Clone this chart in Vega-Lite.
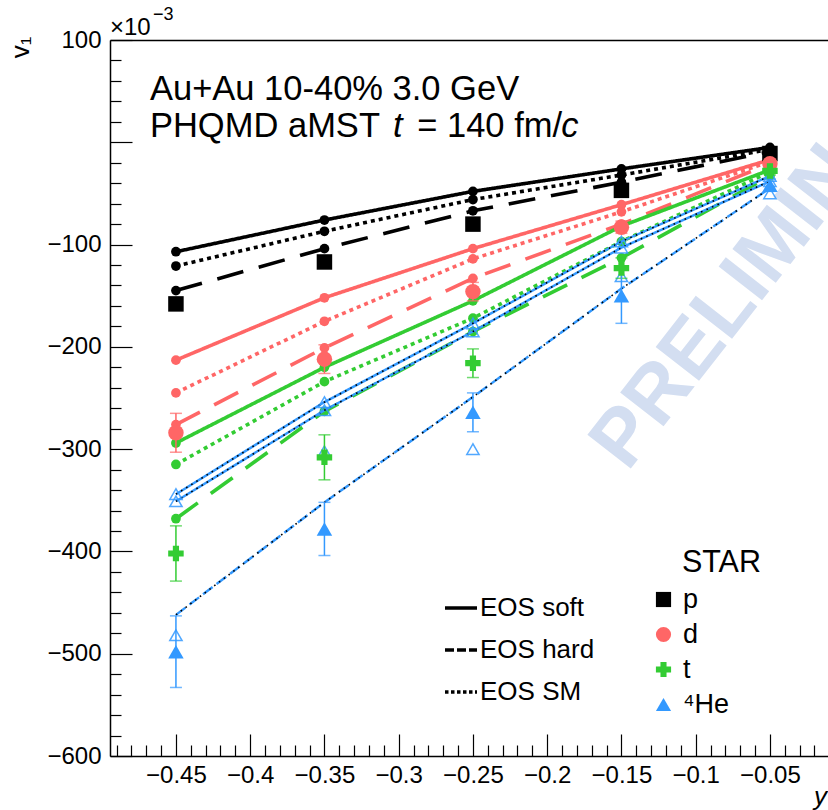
{
  "$schema": "https://vega.github.io/schema/vega-lite/v6.json",
  "autosize": {"type": "none"},
  "width": 718,
  "height": 716,
  "padding": {"left": 110, "top": 40, "right": 0, "bottom": 54},
  "background": "white",
  "config": {"font": "Liberation Sans", "view": {"stroke": null}},
  "datasets": {
    "model": [
      {"y": -0.45, "v1": -107, "species": "p", "eos": "soft"},
      {"y": -0.35, "v1": -76, "species": "p", "eos": "soft"},
      {"y": -0.25, "v1": -48, "species": "p", "eos": "soft"},
      {"y": -0.15, "v1": -26, "species": "p", "eos": "soft"},
      {"y": -0.05, "v1": -5, "species": "p", "eos": "soft"},
      {"y": -0.45, "v1": -121, "species": "p", "eos": "SM"},
      {"y": -0.35, "v1": -87, "species": "p", "eos": "SM"},
      {"y": -0.25, "v1": -56, "species": "p", "eos": "SM"},
      {"y": -0.15, "v1": -32, "species": "p", "eos": "SM"},
      {"y": -0.05, "v1": -7, "species": "p", "eos": "SM"},
      {"y": -0.45, "v1": -145, "species": "p", "eos": "hard"},
      {"y": -0.35, "v1": -104, "species": "p", "eos": "hard"},
      {"y": -0.25, "v1": -67, "species": "p", "eos": "hard"},
      {"y": -0.15, "v1": -39, "species": "p", "eos": "hard"},
      {"y": -0.05, "v1": -9, "species": "p", "eos": "hard"},
      {"y": -0.45, "v1": -213, "species": "d", "eos": "soft"},
      {"y": -0.35, "v1": -152, "species": "d", "eos": "soft"},
      {"y": -0.25, "v1": -104, "species": "d", "eos": "soft"},
      {"y": -0.15, "v1": -61, "species": "d", "eos": "soft"},
      {"y": -0.05, "v1": -17, "species": "d", "eos": "soft"},
      {"y": -0.45, "v1": -245, "species": "d", "eos": "SM"},
      {"y": -0.35, "v1": -175, "species": "d", "eos": "SM"},
      {"y": -0.25, "v1": -114, "species": "d", "eos": "SM"},
      {"y": -0.15, "v1": -68, "species": "d", "eos": "SM"},
      {"y": -0.05, "v1": -19, "species": "d", "eos": "SM"},
      {"y": -0.45, "v1": -276, "species": "d", "eos": "hard"},
      {"y": -0.35, "v1": -201, "species": "d", "eos": "hard"},
      {"y": -0.25, "v1": -133, "species": "d", "eos": "hard"},
      {"y": -0.15, "v1": -80, "species": "d", "eos": "hard"},
      {"y": -0.05, "v1": -21, "species": "d", "eos": "hard"},
      {"y": -0.45, "v1": -294, "species": "t", "eos": "soft"},
      {"y": -0.35, "v1": -220, "species": "t", "eos": "soft"},
      {"y": -0.25, "v1": -155, "species": "t", "eos": "soft"},
      {"y": -0.15, "v1": -82, "species": "t", "eos": "soft"},
      {"y": -0.05, "v1": -27, "species": "t", "eos": "soft"},
      {"y": -0.45, "v1": -315, "species": "t", "eos": "SM"},
      {"y": -0.35, "v1": -234, "species": "t", "eos": "SM"},
      {"y": -0.25, "v1": -172, "species": "t", "eos": "SM"},
      {"y": -0.15, "v1": -97, "species": "t", "eos": "SM"},
      {"y": -0.05, "v1": -29, "species": "t", "eos": "SM"},
      {"y": -0.45, "v1": -368, "species": "t", "eos": "hard"},
      {"y": -0.35, "v1": -263, "species": "t", "eos": "hard"},
      {"y": -0.25, "v1": -185, "species": "t", "eos": "hard"},
      {"y": -0.15, "v1": -113, "species": "t", "eos": "hard"},
      {"y": -0.05, "v1": -33, "species": "t", "eos": "hard"},
      {"y": -0.45, "v1": -344, "species": "4He", "eos": "soft"},
      {"y": -0.35, "v1": -254, "species": "4He", "eos": "soft"},
      {"y": -0.25, "v1": -177, "species": "4He", "eos": "soft"},
      {"y": -0.15, "v1": -97, "species": "4He", "eos": "soft"},
      {"y": -0.05, "v1": -33, "species": "4He", "eos": "soft"},
      {"y": -0.45, "v1": -351, "species": "4He", "eos": "SM"},
      {"y": -0.35, "v1": -262, "species": "4He", "eos": "SM"},
      {"y": -0.25, "v1": -185, "species": "4He", "eos": "SM"},
      {"y": -0.15, "v1": -103, "species": "4He", "eos": "SM"},
      {"y": -0.05, "v1": -38, "species": "4He", "eos": "SM"},
      {"y": -0.45, "v1": -462, "species": "4He", "eos": "hard"},
      {"y": -0.35, "v1": -352, "species": "4He", "eos": "hard"},
      {"y": -0.25, "v1": -249, "species": "4He", "eos": "hard"},
      {"y": -0.15, "v1": -143, "species": "4He", "eos": "hard"},
      {"y": -0.05, "v1": -45, "species": "4He", "eos": "hard"}
    ],
    "star": [
      {"y": -0.45, "v1": -158, "err": 3, "species": "p"},
      {"y": -0.35, "v1": -117, "err": 3, "species": "p"},
      {"y": -0.25, "v1": -80, "err": 3, "species": "p"},
      {"y": -0.15, "v1": -47, "err": 3, "species": "p"},
      {"y": -0.05, "v1": -11, "err": 2, "species": "p"},
      {"y": -0.45, "v1": -284, "err": 19, "species": "d"},
      {"y": -0.35, "v1": -212, "err": 14, "species": "d"},
      {"y": -0.25, "v1": -146, "err": 9, "species": "d"},
      {"y": -0.15, "v1": -83, "err": 6, "species": "d"},
      {"y": -0.05, "v1": -21, "err": 3, "species": "d"},
      {"y": -0.45, "v1": -402, "err": 27, "species": "t"},
      {"y": -0.35, "v1": -308, "err": 22, "species": "t"},
      {"y": -0.25, "v1": -216, "err": 14, "species": "t"},
      {"y": -0.15, "v1": -123, "err": 10, "species": "t"},
      {"y": -0.05, "v1": -28, "err": 4, "species": "t"},
      {"y": -0.45, "v1": -498, "err": 35, "species": "4He"},
      {"y": -0.35, "v1": -378, "err": 26, "species": "4He"},
      {"y": -0.25, "v1": -264, "err": 19, "species": "4He"},
      {"y": -0.15, "v1": -150, "err": 27, "species": "4He"},
      {"y": -0.05, "v1": -42, "err": 6, "species": "4He"}
    ],
    "open": [
      {"y": -0.45, "v1": -482},
      {"y": -0.35, "v1": -302},
      {"y": -0.25, "v1": -300},
      {"y": -0.15, "v1": -131},
      {"y": -0.05, "v1": -50}
    ]
  },
  "resolve": {
    "axis": {"x": "independent", "y": "independent"},
    "scale": {"strokeDash": "independent"},
    "legend": {"color": "independent", "strokeDash": "independent"}
  },
  "layer": [
    {
      "data": {"values": [{}]},
      "mark": {"type": "text", "text": "PRELIMINARY", "font": "Liberation Sans", "fontWeight": "bold", "fontSize": 80, "color": "#d3def1", "angle": -52, "align": "left", "baseline": "alphabetic", "clip": false},
      "encoding": {
        "x": {"datum": -0.146, "type": "quantitative", "scale": {"domain": [-0.4944, -0.0109], "nice": false, "zero": false},
              "axis": {"orient": "top", "labels": false, "ticks": false, "title": null, "grid": false, "domainColor": "black", "domainWidth": 1.5}},
        "y": {"datum": -323, "type": "quantitative", "scale": {"domain": [-600, 100], "nice": false, "zero": false}, "axis": null}
      }
    },
    {
      "data": {"name": "model"},
      "transform": [{"filter": "datum.species !== '4He'"}],
      "mark": {"type": "line", "strokeWidth": 3.6, "strokeCap": "butt"},
      "encoding": {
        "x": {"field": "y", "type": "quantitative", "scale": {"domain": [-0.4944, -0.0109], "nice": false, "zero": false},
              "axis": {"orient": "bottom", "title": "y", "titleFontStyle": "italic", "titleFontSize": 26, "titleFontWeight": "normal", "titleColor": "black",
                       "titleAnchor": "end", "titleAlign": "center", "titleBaseline": "alphabetic", "titleX": 710, "titleY": 48,
                       "values": [-0.49, -0.48, -0.47, -0.46, -0.45, -0.44, -0.43, -0.42, -0.41, -0.4, -0.39, -0.38, -0.37, -0.36, -0.35, -0.34, -0.33, -0.32, -0.31, -0.3, -0.29, -0.28, -0.27, -0.26, -0.25, -0.24, -0.23, -0.22, -0.21, -0.2, -0.19, -0.18, -0.17, -0.16, -0.15, -0.14, -0.13, -0.12, -0.11, -0.1, -0.09, -0.08, -0.07, -0.06, -0.05, -0.04, -0.03, -0.02],
                       "labelExpr": "round(datum.value * 100) % 5 === 0 ? format(datum.value, '.2~f') : ''",
                       "labelFontSize": 24, "labelColor": "black", "labelPadding": 29, "labelFlush": false, "labelOverlap": false, "labelBound": false,
                       "tickSize": {"condition": {"test": "round(datum.value * 100) % 5 === 0", "value": -22}, "value": -11},
                       "tickColor": "black", "tickWidth": 1.2, "domainColor": "black", "domainWidth": 1.5, "grid": false}},
        "y": {"field": "v1", "type": "quantitative", "scale": {"domain": [-600, 100], "nice": false, "zero": false},
              "axis": {"orient": "left", "title": "v₁", "titleFontSize": 26, "titleFontWeight": "normal", "titleColor": "black",
                       "titleAngle": -90, "titleAnchor": "end", "titleAlign": "right", "titleBaseline": "middle", "titleX": -90, "titleY": -4,
                       "values": [-600, -580, -560, -540, -520, -500, -480, -460, -440, -420, -400, -380, -360, -340, -320, -300, -280, -260, -240, -220, -200, -180, -160, -140, -120, -100, -80, -60, -40, -20, 0, 20, 40, 60, 80, 100],
                       "labelExpr": "datum.value % 100 === 0 && datum.value !== 0 ? format(datum.value, 'd') : ''",
                       "labelFontSize": 24, "labelColor": "black", "labelPadding": 31, "labelOverlap": false, "labelBound": false, "labelFlush": false,
                       "tickSize": {"condition": {"test": "datum.value % 100 === 0", "value": -22}, "value": -11},
                       "tickColor": "black", "tickWidth": 1.2, "domainColor": "black", "domainWidth": 1.5, "grid": false}},
        "color": {"field": "species", "type": "nominal", "scale": {"domain": ["p", "d", "t", "4He"], "range": ["#000000", "#ff6666", "#33cc33", "#3399ff"]}, "legend": null},
        "strokeDash": {"field": "eos", "type": "nominal", "scale": {"domain": ["soft", "hard", "SM"], "range": [[1, 0], [27, 16], [4, 4]]}, "legend": null}
      }
    },
    {
      "data": {"name": "model"},
      "transform": [{"filter": "datum.y > 1"}],
      "mark": {"type": "line", "strokeWidth": 3.5, "color": "black"},
      "encoding": {
        "x": {"field": "y", "type": "quantitative", "scale": {"domain": [-0.4944, -0.0109], "nice": false, "zero": false}, "axis": null},
        "y": {"field": "v1", "type": "quantitative", "scale": {"domain": [-600, 100], "nice": false, "zero": false}, "axis": null},
        "strokeDash": {"field": "eos", "type": "nominal", "scale": {"domain": ["soft", "hard", "SM"], "range": [[1, 0], [9, 3], [3.5, 2.5]]},
                       "legend": {"title": null, "orient": "none", "legendX": 333, "legendY": 550, "labelFontSize": 26, "labelColor": "black", "labelOffset": 1,
                                  "symbolType": "stroke", "symbolStrokeColor": "black", "symbolStrokeWidth": 3.5, "symbolSize": 1024, "rowPadding": 11,
                                  "labelExpr": "'EOS ' + datum.label"}}
      }
    },
    {
      "data": {"name": "model"},
      "transform": [{"filter": "datum.species !== '4He'"}],
      "mark": {"type": "point", "filled": true, "opacity": 1, "size": 95, "shape": "circle"},
      "encoding": {
        "x": {"field": "y", "type": "quantitative", "scale": {"domain": [-0.4944, -0.0109], "nice": false, "zero": false}, "axis": null},
        "y": {"field": "v1", "type": "quantitative", "scale": {"domain": [-600, 100], "nice": false, "zero": false}, "axis": null},
        "color": {"field": "species", "type": "nominal", "scale": {"domain": ["p", "d", "t", "4He"], "range": ["#000000", "#ff6666", "#33cc33", "#3399ff"]}, "legend": null}
      }
    },
    {
      "data": {"name": "model"},
      "transform": [{"filter": "datum.species === '4He' && datum.eos !== 'hard'"}],
      "mark": {"type": "line", "strokeWidth": 2.4, "color": "#3399ff"},
      "encoding": {
        "x": {"field": "y", "type": "quantitative", "scale": {"domain": [-0.4944, -0.0109], "nice": false, "zero": false}, "axis": null},
        "y": {"field": "v1", "type": "quantitative", "scale": {"domain": [-600, 100], "nice": false, "zero": false}, "axis": null},
        "detail": {"field": "eos", "type": "nominal"}
      }
    },
    {
      "data": {"name": "model"},
      "transform": [{"filter": "datum.species === '4He' && datum.eos === 'hard'"}],
      "mark": {"type": "line", "strokeWidth": 2.4, "color": "#3399ff", "strokeDash": [12, 5]},
      "encoding": {
        "x": {"field": "y", "type": "quantitative", "scale": {"domain": [-0.4944, -0.0109], "nice": false, "zero": false}, "axis": null},
        "y": {"field": "v1", "type": "quantitative", "scale": {"domain": [-600, 100], "nice": false, "zero": false}, "axis": null}
      }
    },
    {
      "data": {"name": "model"},
      "transform": [{"filter": "datum.species === '4He'"}],
      "mark": {"type": "line", "strokeWidth": 1.6, "color": "#000000", "strokeDash": [1.6, 4.4]},
      "encoding": {
        "x": {"field": "y", "type": "quantitative", "scale": {"domain": [-0.4944, -0.0109], "nice": false, "zero": false}, "axis": null},
        "y": {"field": "v1", "type": "quantitative", "scale": {"domain": [-600, 100], "nice": false, "zero": false}, "axis": null},
        "detail": {"field": "eos", "type": "nominal"}
      }
    },
    {
      "data": {"name": "model"},
      "transform": [{"filter": "datum.species === '4He' && datum.eos !== 'hard'"}],
      "mark": {"type": "point", "shape": "triangle-up", "filled": false, "size": 150, "strokeWidth": 1.5, "color": "#3399ff", "opacity": 0.85},
      "encoding": {
        "x": {"field": "y", "type": "quantitative", "scale": {"domain": [-0.4944, -0.0109], "nice": false, "zero": false}, "axis": null},
        "y": {"field": "v1", "type": "quantitative", "scale": {"domain": [-600, 100], "nice": false, "zero": false}, "axis": null}
      }
    },
    {
      "data": {"name": "open"},
      "mark": {"type": "point", "shape": "triangle-up", "filled": false, "size": 150, "strokeWidth": 1.5, "color": "#3399ff", "opacity": 0.85},
      "encoding": {
        "x": {"field": "y", "type": "quantitative", "scale": {"domain": [-0.4944, -0.0109], "nice": false, "zero": false}, "axis": null},
        "y": {"field": "v1", "type": "quantitative", "scale": {"domain": [-600, 100], "nice": false, "zero": false}, "axis": null}
      }
    },
    {
      "data": {"name": "star"},
      "mark": {"type": "errorbar", "ticks": true, "thickness": 1.5, "size": 12},
      "encoding": {
        "x": {"field": "y", "type": "quantitative", "scale": {"domain": [-0.4944, -0.0109], "nice": false, "zero": false}, "axis": null},
        "y": {"field": "v1", "type": "quantitative", "scale": {"domain": [-600, 100], "nice": false, "zero": false}, "axis": null},
        "yError": {"field": "err"},
        "color": {"field": "species", "type": "nominal", "scale": {"domain": ["p", "d", "t", "4He"], "range": ["#000000", "#ff6666", "#33cc33", "#3399ff"]}, "legend": null}
      }
    },
    {
      "data": {"name": "star"},
      "mark": {"type": "point", "filled": true, "opacity": 1, "size": 240, "strokeWidth": 0},
      "encoding": {
        "x": {"field": "y", "type": "quantitative", "scale": {"domain": [-0.4944, -0.0109], "nice": false, "zero": false}, "axis": null},
        "y": {"field": "v1", "type": "quantitative", "scale": {"domain": [-600, 100], "nice": false, "zero": false}, "axis": null},
        "fill": {"field": "species", "type": "nominal", "scale": {"domain": ["p", "d", "t", "4He"], "range": ["#000000", "#ff6666", "#33cc33", "#3399ff"]},
                 "legend": {"title": null, "orient": "none", "legendX": 540, "legendY": 546,
                            "labelFontSize": 27, "labelColor": "black", "labelOffset": 6, "symbolSize": 230, "rowPadding": 7,
                            "labelExpr": "datum.label === '4He' ? '⁴He' : datum.label"}},
        "shape": {"field": "species", "type": "nominal", "scale": {"domain": ["p", "d", "t", "4He"], "range": ["square", "circle", "cross", "triangle-up"]},
                  "legend": {"title": null, "orient": "none", "legendX": 540, "legendY": 546,
                             "labelFontSize": 27, "labelColor": "black", "labelOffset": 6, "symbolSize": 230, "rowPadding": 7,
                             "labelExpr": "datum.label === '4He' ? '⁴He' : datum.label"}}
      }
    },
    {
      "data": {"values": [{}]},
      "mark": {"type": "text", "text": "STAR", "fontSize": 30.5, "color": "black", "align": "left", "baseline": "alphabetic", "clip": false},
      "encoding": {
        "x": {"datum": -0.1093, "type": "quantitative", "scale": {"domain": [-0.4944, -0.0109], "nice": false, "zero": false}, "axis": null},
        "y": {"datum": -420, "type": "quantitative", "scale": {"domain": [-600, 100], "nice": false, "zero": false}, "axis": null}
      }
    },
    {
      "data": {"values": [{}]},
      "mark": {"type": "text", "text": "Au+Au 10-40% 3.0 GeV", "fontSize": 34.5, "color": "black", "align": "left", "baseline": "alphabetic", "clip": false},
      "encoding": {
        "x": {"datum": -0.4675, "type": "quantitative", "scale": {"domain": [-0.4944, -0.0109], "nice": false, "zero": false}, "axis": null},
        "y": {"datum": 41, "type": "quantitative", "scale": {"domain": [-600, 100], "nice": false, "zero": false}, "axis": null}
      }
    },
    {
      "data": {"values": [{}]},
      "mark": {"type": "text", "text": "PHQMD aMST", "fontSize": 34.5, "color": "black", "align": "left", "baseline": "alphabetic", "clip": false},
      "encoding": {
        "x": {"datum": -0.4675, "type": "quantitative", "scale": {"domain": [-0.4944, -0.0109], "nice": false, "zero": false}, "axis": null},
        "y": {"datum": 5, "type": "quantitative", "scale": {"domain": [-600, 100], "nice": false, "zero": false}, "axis": null}
      }
    },
    {
      "data": {"values": [{}]},
      "mark": {"type": "text", "text": "t", "fontSize": 34.5, "fontStyle": "italic", "color": "black", "align": "left", "baseline": "alphabetic", "clip": false},
      "encoding": {
        "x": {"datum": -0.3039, "type": "quantitative", "scale": {"domain": [-0.4944, -0.0109], "nice": false, "zero": false}, "axis": null},
        "y": {"datum": 5, "type": "quantitative", "scale": {"domain": [-600, 100], "nice": false, "zero": false}, "axis": null}
      }
    },
    {
      "data": {"values": [{}]},
      "mark": {"type": "text", "text": "= 140 fm/", "fontSize": 34.5, "color": "black", "align": "left", "baseline": "alphabetic", "clip": false},
      "encoding": {
        "x": {"datum": -0.2875, "type": "quantitative", "scale": {"domain": [-0.4944, -0.0109], "nice": false, "zero": false}, "axis": null},
        "y": {"datum": 5, "type": "quantitative", "scale": {"domain": [-600, 100], "nice": false, "zero": false}, "axis": null}
      }
    },
    {
      "data": {"values": [{}]},
      "mark": {"type": "text", "text": "c", "fontSize": 34.5, "fontStyle": "italic", "color": "black", "align": "left", "baseline": "alphabetic", "clip": false},
      "encoding": {
        "x": {"datum": -0.1905, "type": "quantitative", "scale": {"domain": [-0.4944, -0.0109], "nice": false, "zero": false}, "axis": null},
        "y": {"datum": 5, "type": "quantitative", "scale": {"domain": [-600, 100], "nice": false, "zero": false}, "axis": null}
      }
    },
    {
      "data": {"values": [{}]},
      "mark": {"type": "text", "text": "×10", "fontSize": 24, "color": "black", "align": "left", "baseline": "alphabetic", "clip": false},
      "encoding": {
        "x": {"datum": -0.4944, "type": "quantitative", "scale": {"domain": [-0.4944, -0.0109], "nice": false, "zero": false}, "axis": null},
        "y": {"datum": 104.9, "type": "quantitative", "scale": {"domain": [-600, 100], "nice": false, "zero": false}, "axis": null}
      }
    },
    {
      "data": {"values": [{}]},
      "mark": {"type": "text", "text": "−3", "fontSize": 18, "color": "black", "align": "left", "baseline": "alphabetic", "clip": false},
      "encoding": {
        "x": {"datum": -0.4654, "type": "quantitative", "scale": {"domain": [-0.4944, -0.0109], "nice": false, "zero": false}, "axis": null},
        "y": {"datum": 120, "type": "quantitative", "scale": {"domain": [-600, 100], "nice": false, "zero": false}, "axis": null}
      }
    }
  ]
}
